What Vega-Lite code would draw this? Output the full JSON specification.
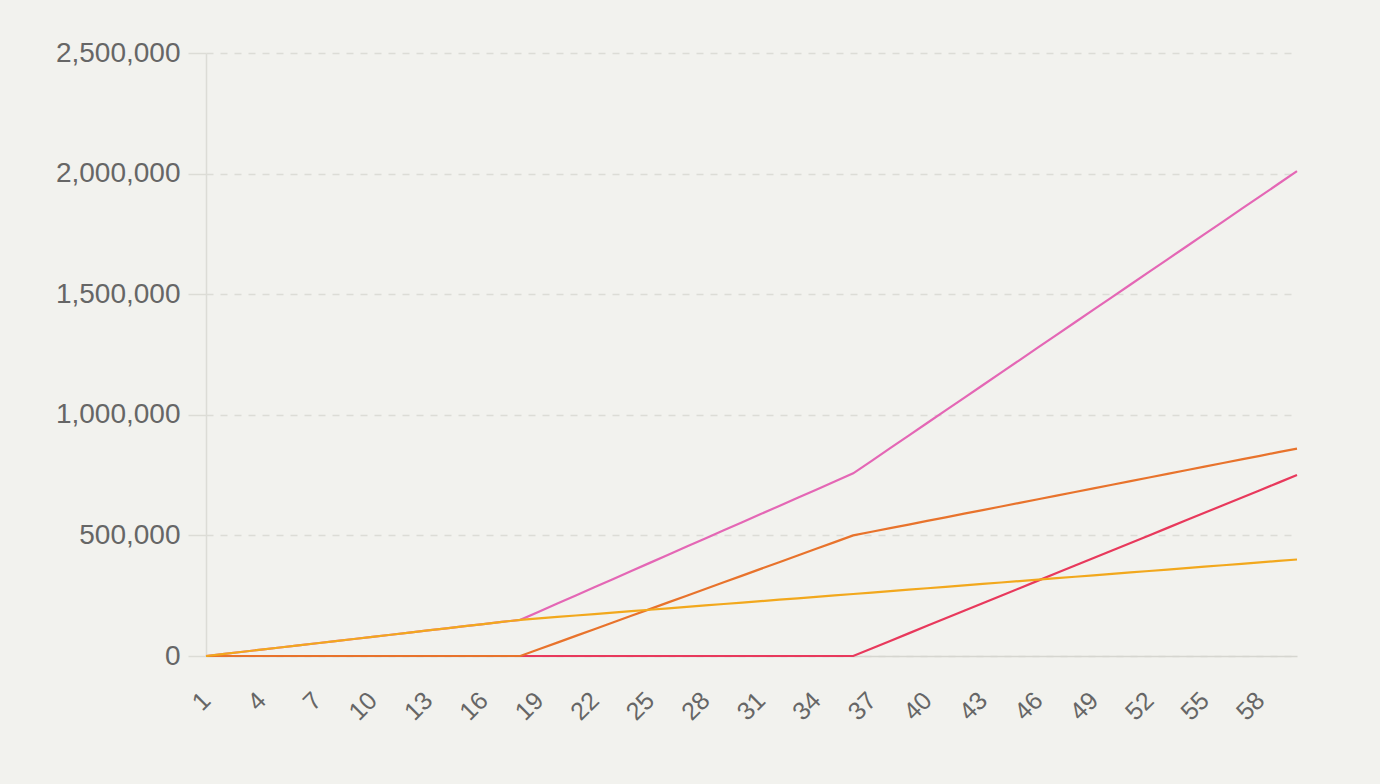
{
  "$schema": "https://vega.github.io/schema/vega-lite/v6.json",
  "width": 1091,
  "height": 603,
  "autosize": {"type": "none"},
  "padding": {"left": 206, "top": 53, "right": 83, "bottom": 128},
  "background": "#f2f2ee",
  "data": {"values": [
    {"x": 1, "a_total": 0, "b_red": 0, "c_orange": 0, "d_yellow": 0},
    {"x": 2, "a_total": 8824, "b_red": 0, "c_orange": 0, "d_yellow": 8824},
    {"x": 3, "a_total": 17647, "b_red": 0, "c_orange": 0, "d_yellow": 17647},
    {"x": 4, "a_total": 26471, "b_red": 0, "c_orange": 0, "d_yellow": 26471},
    {"x": 5, "a_total": 35294, "b_red": 0, "c_orange": 0, "d_yellow": 35294},
    {"x": 6, "a_total": 44118, "b_red": 0, "c_orange": 0, "d_yellow": 44118},
    {"x": 7, "a_total": 52941, "b_red": 0, "c_orange": 0, "d_yellow": 52941},
    {"x": 8, "a_total": 61765, "b_red": 0, "c_orange": 0, "d_yellow": 61765},
    {"x": 9, "a_total": 70588, "b_red": 0, "c_orange": 0, "d_yellow": 70588},
    {"x": 10, "a_total": 79412, "b_red": 0, "c_orange": 0, "d_yellow": 79412},
    {"x": 11, "a_total": 88235, "b_red": 0, "c_orange": 0, "d_yellow": 88235},
    {"x": 12, "a_total": 97059, "b_red": 0, "c_orange": 0, "d_yellow": 97059},
    {"x": 13, "a_total": 105882, "b_red": 0, "c_orange": 0, "d_yellow": 105882},
    {"x": 14, "a_total": 114706, "b_red": 0, "c_orange": 0, "d_yellow": 114706},
    {"x": 15, "a_total": 123529, "b_red": 0, "c_orange": 0, "d_yellow": 123529},
    {"x": 16, "a_total": 132353, "b_red": 0, "c_orange": 0, "d_yellow": 132353},
    {"x": 17, "a_total": 141176, "b_red": 0, "c_orange": 0, "d_yellow": 141176},
    {"x": 18, "a_total": 150000, "b_red": 0, "c_orange": 0, "d_yellow": 150000},
    {"x": 19, "a_total": 183730, "b_red": 0, "c_orange": 27778, "d_yellow": 155952},
    {"x": 20, "a_total": 217461, "b_red": 0, "c_orange": 55556, "d_yellow": 161905},
    {"x": 21, "a_total": 251190, "b_red": 0, "c_orange": 83333, "d_yellow": 167857},
    {"x": 22, "a_total": 284921, "b_red": 0, "c_orange": 111111, "d_yellow": 173810},
    {"x": 23, "a_total": 318651, "b_red": 0, "c_orange": 138889, "d_yellow": 179762},
    {"x": 24, "a_total": 352381, "b_red": 0, "c_orange": 166667, "d_yellow": 185714},
    {"x": 25, "a_total": 386111, "b_red": 0, "c_orange": 194444, "d_yellow": 191667},
    {"x": 26, "a_total": 419841, "b_red": 0, "c_orange": 222222, "d_yellow": 197619},
    {"x": 27, "a_total": 453571, "b_red": 0, "c_orange": 250000, "d_yellow": 203571},
    {"x": 28, "a_total": 487302, "b_red": 0, "c_orange": 277778, "d_yellow": 209524},
    {"x": 29, "a_total": 521032, "b_red": 0, "c_orange": 305556, "d_yellow": 215476},
    {"x": 30, "a_total": 554762, "b_red": 0, "c_orange": 333333, "d_yellow": 221429},
    {"x": 31, "a_total": 588492, "b_red": 0, "c_orange": 361111, "d_yellow": 227381},
    {"x": 32, "a_total": 622222, "b_red": 0, "c_orange": 388889, "d_yellow": 233333},
    {"x": 33, "a_total": 655953, "b_red": 0, "c_orange": 416667, "d_yellow": 239286},
    {"x": 34, "a_total": 689682, "b_red": 0, "c_orange": 444444, "d_yellow": 245238},
    {"x": 35, "a_total": 723412, "b_red": 0, "c_orange": 472222, "d_yellow": 251190},
    {"x": 36, "a_total": 757143, "b_red": 0, "c_orange": 500000, "d_yellow": 257143},
    {"x": 37, "a_total": 809345, "b_red": 31250, "c_orange": 515000, "d_yellow": 263095},
    {"x": 38, "a_total": 861548, "b_red": 62500, "c_orange": 530000, "d_yellow": 269048},
    {"x": 39, "a_total": 913750, "b_red": 93750, "c_orange": 545000, "d_yellow": 275000},
    {"x": 40, "a_total": 965952, "b_red": 125000, "c_orange": 560000, "d_yellow": 280952},
    {"x": 41, "a_total": 1018155, "b_red": 156250, "c_orange": 575000, "d_yellow": 286905},
    {"x": 42, "a_total": 1070357, "b_red": 187500, "c_orange": 590000, "d_yellow": 292857},
    {"x": 43, "a_total": 1122560, "b_red": 218750, "c_orange": 605000, "d_yellow": 298810},
    {"x": 44, "a_total": 1174762, "b_red": 250000, "c_orange": 620000, "d_yellow": 304762},
    {"x": 45, "a_total": 1226964, "b_red": 281250, "c_orange": 635000, "d_yellow": 310714},
    {"x": 46, "a_total": 1279167, "b_red": 312500, "c_orange": 650000, "d_yellow": 316667},
    {"x": 47, "a_total": 1331369, "b_red": 343750, "c_orange": 665000, "d_yellow": 322619},
    {"x": 48, "a_total": 1383571, "b_red": 375000, "c_orange": 680000, "d_yellow": 328571},
    {"x": 49, "a_total": 1435774, "b_red": 406250, "c_orange": 695000, "d_yellow": 334524},
    {"x": 50, "a_total": 1487976, "b_red": 437500, "c_orange": 710000, "d_yellow": 340476},
    {"x": 51, "a_total": 1540179, "b_red": 468750, "c_orange": 725000, "d_yellow": 346429},
    {"x": 52, "a_total": 1592381, "b_red": 500000, "c_orange": 740000, "d_yellow": 352381},
    {"x": 53, "a_total": 1644583, "b_red": 531250, "c_orange": 755000, "d_yellow": 358333},
    {"x": 54, "a_total": 1696786, "b_red": 562500, "c_orange": 770000, "d_yellow": 364286},
    {"x": 55, "a_total": 1748988, "b_red": 593750, "c_orange": 785000, "d_yellow": 370238},
    {"x": 56, "a_total": 1801190, "b_red": 625000, "c_orange": 800000, "d_yellow": 376190},
    {"x": 57, "a_total": 1853393, "b_red": 656250, "c_orange": 815000, "d_yellow": 382143},
    {"x": 58, "a_total": 1905595, "b_red": 687500, "c_orange": 830000, "d_yellow": 388095},
    {"x": 59, "a_total": 1957798, "b_red": 718750, "c_orange": 845000, "d_yellow": 394048},
    {"x": 60, "a_total": 2010000, "b_red": 750000, "c_orange": 860000, "d_yellow": 400000}
  ]},
  "transform": [{"fold": ["a_total", "b_red", "c_orange", "d_yellow"], "as": ["series", "value"]}],
  "mark": {"type": "line", "strokeWidth": 2.2, "interpolate": "linear"},
  "encoding": {
    "x": {
      "field": "x", "type": "quantitative",
      "scale": {"domain": [1, 60], "nice": false, "zero": false},
      "axis": {
        "title": null, "values": [1, 4, 7, 10, 13, 16, 19, 22, 25, 28, 31, 34, 37, 40, 43, 46, 49, 52, 55, 58],
        "labelAngle": -45, "labelAlign": "right", "labelBaseline": "middle",
        "labelFontSize": 25, "labelColor": "#666666", "labelFont": "Liberation Sans",
        "labelPadding": 40, "ticks": false, "grid": false,
        "domainColor": "#d6d6d0", "domainWidth": 1.5, "labelOverlap": false, "labelFlush": false
      }
    },
    "y": {
      "field": "value", "type": "quantitative",
      "scale": {"domain": [0, 2500000], "nice": false},
      "axis": {
        "title": null, "values": [0, 500000, 1000000, 1500000, 2000000, 2500000], "format": ",d",
        "labelFontSize": 28, "labelColor": "#666666", "labelFont": "Liberation Sans",
        "labelPadding": 8, "tickSize": 18, "tickColor": "#dcdcd6", "tickWidth": 1.5,
        "domainColor": "#dcdcd6", "domainWidth": 1.5,
        "grid": true, "gridColor": "#dcdcd6", "gridDash": [7, 7], "gridWidth": 1.5
      }
    },
    "color": {
      "field": "series", "type": "nominal", "legend": null,
      "scale": {"domain": ["a_total", "b_red", "c_orange", "d_yellow"], "range": ["#e467b5", "#e8395c", "#e8732c", "#f2a81d"]}
    }
  },
  "config": {"view": {"stroke": null}}
}
